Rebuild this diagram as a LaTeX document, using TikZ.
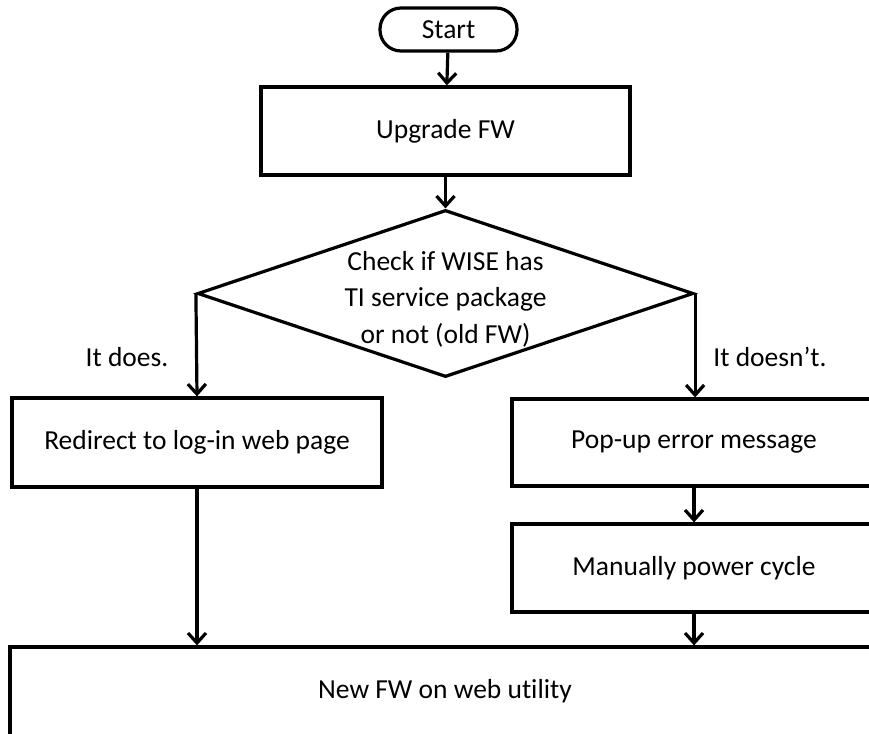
\documentclass[tikz,border=0pt]{standalone}
\usepackage{fontspec}
\setmainfont{Carlito}[Ligatures={NoCommon}]
\usetikzlibrary{shapes.geometric,arrows.meta}
\begin{document}
\begin{tikzpicture}[x=1pt,y=-1pt,
  every node/.style={font=\fontsize{27.5}{33}\selectfont},
  box/.style={draw,line width=3.2pt,rectangle,inner sep=0pt},
  arr/.style={line width=3.2pt,-{Straight Barb[length=10pt,width=18pt,line width=3.2pt]}},
  lbl/.style={inner sep=0pt}]
\useasboundingbox (0,0) rectangle (869,733);
\clip (0,0) rectangle (869,733);
\node[box,rounded corners=21pt,minimum width=137pt,minimum height=43pt] (start) at (448.5,29.5) {Start};
\node[box,minimum width=369pt,minimum height=88pt] (upg) at (445.5,131) {Upgrade FW};
\node[draw,line width=3.2pt,diamond,inner sep=0pt,minimum width=496pt,minimum height=167pt] (dec) at (445.5,293.5) {};
\node[lbl,align=center,font=\fontsize{27.5}{36.5}\selectfont] (dectext) at (445.5,299) {Check if WISE has\\TI service package\\or not (old FW)};
\node[box,minimum width=370pt,minimum height=89pt] (red) at (197,442.5) {Redirect to log-in web page};
\node[box,minimum width=364pt,minimum height=87pt] (pop) at (694,442.5) {Pop-up error message};
\node[box,minimum width=364pt,minimum height=88pt] (man) at (694,568) {Manually power cycle};
\node[box,minimum width=870pt,minimum height=89pt] (new) at (445,691.5) {New FW on web utility};
\node[lbl] (ldoes) at (127,357) {It does.};
\node[lbl] (ldoesnt) at (770,357) {It doesn’t.};
\draw[arr] (start) -- (upg);
\draw[arr] (upg) -- (dec.north);
\draw[arr] (dec.west) -- (red.north);
\draw[arr] (dec.east) -- (dec.east |- pop.north);
\draw[arr] (pop) -- (man);
\draw[arr] (red.south) -- (red.south |- new.north);
\draw[arr] (man.south) -- (man.south |- new.north);
\end{tikzpicture}
\end{document}
